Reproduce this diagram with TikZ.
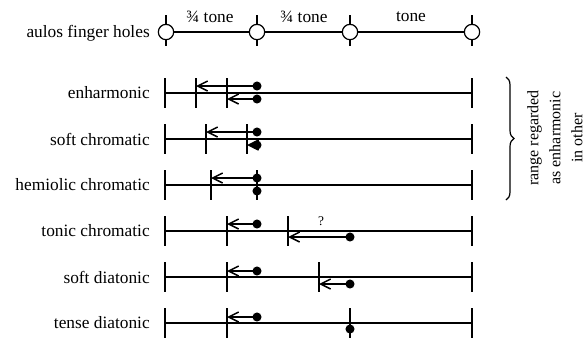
\documentclass[tikz,border=0pt]{standalone}
\usepackage{fontspec}
\setmainfont{Liberation Serif}
\usetikzlibrary{arrows.meta,decorations.pathreplacing}
\tikzset{
  base/.style={line width=0.9pt},
  vtick/.style={line width=0.9pt},
  arr/.style={line width=1.1pt,-{Straight Barb[length=7.5pt,width=7.5pt,line width=1.1pt]}},
  dotc/.style={circle,fill=black,inner sep=0pt,minimum size=6.8pt},
  hole/.style={circle,draw,fill=white,line width=0.9pt,inner sep=0pt,minimum size=11.5pt},
  lbl/.style={anchor=east,inner sep=0pt,font=\fontsize{13}{15}\selectfont},
  ivl/.style={inner sep=0pt,font=\fontsize{13}{15}\selectfont},
}
\begin{document}
\begin{tikzpicture}[x=0.75pt,y=-0.75pt]
\useasboundingbox (0,0) rectangle (586,337);
% top row: finger holes
\node[lbl] (lt) at (150,33) {aulos finger holes};
\foreach \n/\x in {1/166,2/257,3/350,4/472}{
  \coordinate (ht\n) at (\x,15);
  \coordinate (hb\n) at (\x,46);
  \draw[vtick] (ht\n) -- (hb\n);
}
\draw[base] (166,32) coordinate (hc1) -- (472,32) coordinate (hc4);
\foreach \n/\x in {1/166,2/257,3/350,4/472}{
  \node[hole] (h\n) at (\x,32) {};
}
\node[ivl] (i1) at (210,17) {¾ tone};
\node[ivl] (i2) at (304,17) {¾ tone};
\node[ivl] (i3) at (411,17) {tone};
% rows
\foreach \r/\y/\t in {1/93/enharmonic,2/139/soft chromatic,3/185/hemiolic chromatic,4/231/tonic chromatic,5/277/soft diatonic,6/323/tense diatonic}{
  \node[lbl] (l\r) at (150,\y) {\t};
  \coordinate (a\r) at (165,\y);
  \coordinate (b\r) at (472,\y);
  \draw[base] (a\r) -- (b\r);
  \draw[vtick] ([yshift=11.25pt]a\r) -- ([yshift=-11.25pt]a\r);
  \draw[vtick] ([yshift=11.25pt]b\r) -- ([yshift=-11.25pt]b\r);
}
% inner ticks
\foreach \n/\x/\y in {t11/196/93,t12/227/93,t21/206/139,t22/247/139,t31/211/185,t32/257/185,t41/227/231,t42/288/231,t51/227/277,t52/319/277,t61/227/323,t62/350/323}{
  \coordinate (\n) at (\x,\y);
  \draw[vtick] ([yshift=11.25pt]\n) -- ([yshift=-11.25pt]\n);
}
% dots and arrows
\node[dotc] (d11) at (257,86) {};  \coordinate (e11) at (196,86);
\node[dotc] (d12) at (257,99) {};  \coordinate (e12) at (227,99);
\node[dotc] (d21) at (257,132) {}; \coordinate (e21) at (206,132);
\node[dotc] (d22) at (257,145) {}; \coordinate (e22) at (247,145);
\node[dotc] (d31) at (257,178) {}; \coordinate (e31) at (211,178);
\node[dotc] (d32) at (257,191) {};
\node[dotc] (d41) at (257,224) {}; \coordinate (e41) at (227,224);
\node[dotc] (d42) at (350,237) {}; \coordinate (e42) at (288,237);
\node[dotc] (d51) at (257,271) {}; \coordinate (e51) at (227,271);
\node[dotc] (d52) at (350,284) {}; \coordinate (e52) at (319,284);
\node[dotc] (d61) at (257,317) {}; \coordinate (e61) at (227,317);
\node[dotc] (d62) at (350,329) {};
\foreach \k in {11,12,21,22,31,41,42,51,52,61}{
  \draw[arr] (d\k.center) -- (e\k);
}
\node[inner sep=0pt,font=\fontsize{10}{11}\selectfont] (q) at (321,221) {?};
% brace
\coordinate (bt) at (506,77);
\coordinate (bb) at (506,200);
\draw[line width=0.9pt,decorate,decoration={brace,amplitude=6pt}] (bt) -- (bb);
\node[rotate=90,align=center,inner sep=0pt,font=\fontsize{12}{16.5}\selectfont] (rt) at (555,138) {range regarded\\as enharmonic\\in other};
\end{tikzpicture}
\end{document}
